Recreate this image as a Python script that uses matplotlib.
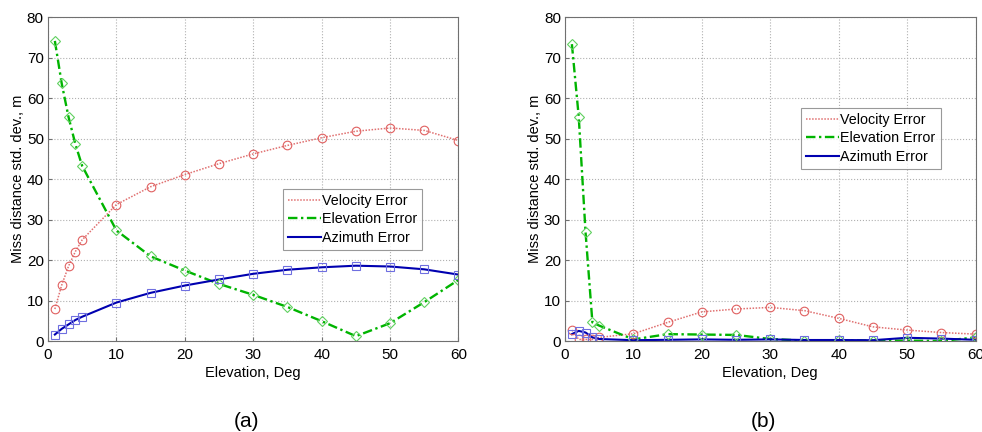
import matplotlib.pyplot as plt

elev = [1, 2, 3, 4, 5, 10, 15, 20, 25, 30, 35, 40, 45, 50, 55, 60]

# panel (a)
vel_a = [7.9, 13.8, 18.5, 22.1, 25.0, 33.7, 38.1, 41.1, 43.8, 46.2, 48.3, 50.2, 51.8, 52.6, 52.0, 49.5]
ele_a = [74.1, 63.6, 55.3, 48.6, 43.2, 27.3, 20.9, 17.4, 14.1, 11.4, 8.4, 4.9, 1.2, 4.4, 9.6, 15.1]
azi_a = [1.6, 3.0, 4.1, 5.2, 6.0, 9.5, 11.9, 13.7, 15.2, 16.6, 17.6, 18.2, 18.6, 18.4, 17.7, 16.4]

# panel (b)
vel_b = [2.7, 0.4, 0.4, 0.4, 0.9, 1.8, 4.6, 7.2, 7.9, 8.3, 7.5, 5.6, 3.5, 2.7, 2.1, 1.7]
ele_b = [73.3, 55.4, 26.8, 4.6, 3.8, 0.4, 1.7, 1.6, 1.5, 0.5, 0.1, 0.2, 0.1, 0.1, 0.0, 0.9]
azi_b = [1.7, 2.5, 2.1, 0.9, 0.5, 0.2, 0.3, 0.4, 0.3, 0.4, 0.25, 0.25, 0.2, 0.8, 0.6, 0.3]

panels = [("(a)", vel_a, ele_a, azi_a, 0.0489, (0.912, 0.469)),
          ("(b)", vel_b, ele_b, azi_b, 0.5754, (0.915, 0.719))]

fig = plt.figure(figsize=(9.82, 4.32), dpi=100)
plt.rcParams['font.family'] = ['Liberation Sans', 'DejaVu Sans']

for tag, vel, ele, azi, left, anchor in panels:
    ax = fig.add_axes([left, 0.2106, 0.418, 0.75])

    # lines first, then hollow markers on top
    l1, = ax.plot(elev, vel, color="#e07070", linestyle=(0, (1, 1)), linewidth=1.1, label="Velocity Error")
    l2, = ax.plot(elev, ele, color="#00b400", linestyle=(0, (4, 1.5, 1, 1.5)), linewidth=1.7, label="Elevation Error")
    l3, = ax.plot(elev, azi, color="#0000b0", linestyle="-", linewidth=1.5, label="Azimuth Error")
    ax.plot(elev, vel, "o", ms=6.2, mfc="none", mec="#e06060", mew=0.8)
    ax.plot(elev, ele, "D", ms=5.2, mfc="none", mec="#60d060", mew=0.8)
    ax.plot(elev, azi, "s", ms=5.8, mfc="none", mec="#6f6fe0", mew=0.8)

    ax.set_xlim(0, 60)
    ax.set_ylim(0, 80)
    ax.set_xticks(range(0, 61, 10))
    ax.set_yticks(range(0, 81, 10))
    ax.grid(True, color="#b0b0b0", linestyle=":", linewidth=0.8)
    for s in ax.spines.values():
        s.set_color("#707070")
    ax.tick_params(labelsize=11, direction="in", length=3, color="#707070")
    ax.tick_params(axis="x", pad=5)
    ax.tick_params(axis="y", pad=3)
    ax.set_xlabel("Elevation, Deg", fontsize=10.5, labelpad=3)
    ax.set_ylabel("Miss distance std. dev., m", fontsize=10.5, labelpad=1)

    leg = ax.legend(handles=[l1, l2, l3], loc="upper right", bbox_to_anchor=anchor,
                    fontsize=10.3, frameon=True, fancybox=False, borderaxespad=0,
                    handlelength=2.3, handletextpad=0.1, labelspacing=0.3,
                    borderpad=0.35)
    leg.get_frame().set_edgecolor("#808080")
    leg.get_frame().set_linewidth(0.8)

    ax.text(0.483, -0.247, tag, transform=ax.transAxes, ha="center", va="center", fontsize=15)

fig.savefig("out.png", dpi=100)
